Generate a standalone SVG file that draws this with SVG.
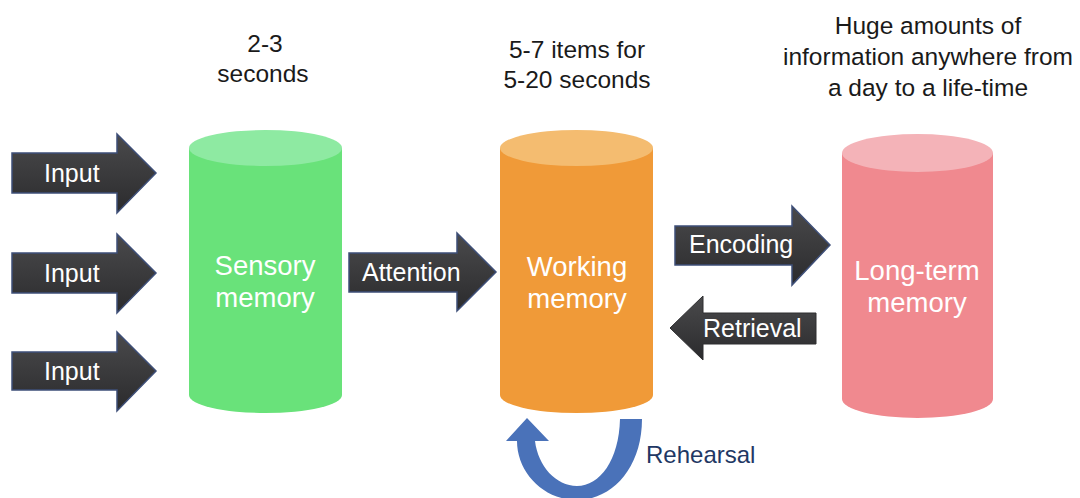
<svg xmlns="http://www.w3.org/2000/svg" width="1080" height="498" viewBox="0 0 1080 498">
<defs>
<linearGradient id="dark" x1="0" y1="0" x2="0" y2="1">
<stop offset="0" stop-color="#4a4a4c"/>
<stop offset="1" stop-color="#2b2b2d"/>
</linearGradient>
<style>
.arrow{fill:url(#dark);stroke:#3e4f78;stroke-width:1.5}
.arrow2{fill:url(#dark);stroke:#2e2e30;stroke-width:1}
.lbl{font-family:"Liberation Sans",Arial,sans-serif;font-size:25px;fill:#ffffff}
.cyl{font-family:"Liberation Sans",Arial,sans-serif;font-size:27.5px;fill:#ffffff;text-anchor:middle}
.note{font-family:"Liberation Sans",Arial,sans-serif;font-size:24.5px;fill:#1a1a1a;text-anchor:middle}
</style>
</defs>
<rect width="1080" height="498" fill="#ffffff"/>
<g id="notes">
<text class="note" x="265" y="52">2-3</text>
<text class="note" x="263" y="82">seconds</text>
<text class="note" x="577" y="58">5-7 items for</text>
<text class="note" x="577" y="88">5-20 seconds</text>
<text class="note" x="928" y="34">Huge amounts of</text>
<text class="note" x="928" y="65">information anywhere from</text>
<text class="note" x="928" y="96">a day to a life-time</text>
</g>
<g id="sensory">
<path d="M189 148 L189 395 A76.5 18 0 0 0 342 395 L342 148 Z" fill="#69e27a"/>
<ellipse cx="265.5" cy="148" rx="76.5" ry="18" fill="#8eeaa2"/>
<text class="cyl" x="265" y="275">Sensory</text>
<text class="cyl" x="265" y="307">memory</text>
</g>
<g id="working">
<path d="M500 148 L500 395 A76.5 18 0 0 0 653 395 L653 148 Z" fill="#f09a38"/>
<ellipse cx="576.5" cy="148" rx="76.5" ry="18" fill="#f4bc70"/>
<text class="cyl" x="577" y="276">Working</text>
<text class="cyl" x="577" y="308">memory</text>
</g>
<g id="longterm">
<path d="M842 153 L842 399 A75.5 19 0 0 0 993 399 L993 153 Z" fill="#f0898f"/>
<ellipse cx="917.5" cy="153" rx="75.5" ry="19" fill="#f4b3b8"/>
<text class="cyl" x="917" y="280">Long-term</text>
<text class="cyl" x="917" y="312">memory</text>
</g>
<g id="connectors">
<g id="input1">
<path class="arrow" d="M12 153 L117 153 L117 134 L156 173 L117 213 L117 193 L12 193 Z"/>
<text class="lbl" x="44" y="182">Input</text>
</g>
<g id="input2">
<path class="arrow" d="M12 253 L117 253 L117 234 L156 273 L117 313 L117 293 L12 293 Z"/>
<text class="lbl" x="44" y="282">Input</text>
</g>
<g id="input3">
<path class="arrow" d="M12 352 L117 352 L117 332 L156 371 L117 411 L117 390 L12 390 Z"/>
<text class="lbl" x="44" y="380">Input</text>
</g>
<g id="attention">
<path class="arrow" d="M349 253 L457 253 L457 233 L496 272 L457 311 L457 292 L349 292 Z"/>
<text class="lbl" x="362" y="281">Attention</text>
</g>
<g id="encoding">
<path class="arrow" d="M675 226 L792 226 L792 206 L830 245 L792 285 L792 265 L675 265 Z"/>
<text class="lbl" x="689" y="253">Encoding</text>
</g>
<g id="retrieval">
<path class="arrow2" d="M816 313 L703 313 L703 296 L670 328 L703 360 L703 344 L816 344 Z"/>
<text class="lbl" x="703" y="337">Retrieval</text>
</g>
<g id="rehearsal">
<path d="M620 419 L642 419 C642 468 612 500 577 500 C543 500 517 472 517 441 L506 441 L527 418 L549 441 L535 441 C538 466 556 486 577 486 C600 486 619 460 620 419 Z" fill="#4a72b9"/>
<text x="646" y="463" font-family="'Liberation Sans',Arial,sans-serif" font-size="24" fill="#1f3864">Rehearsal</text>
</g>
</g>
</svg>
